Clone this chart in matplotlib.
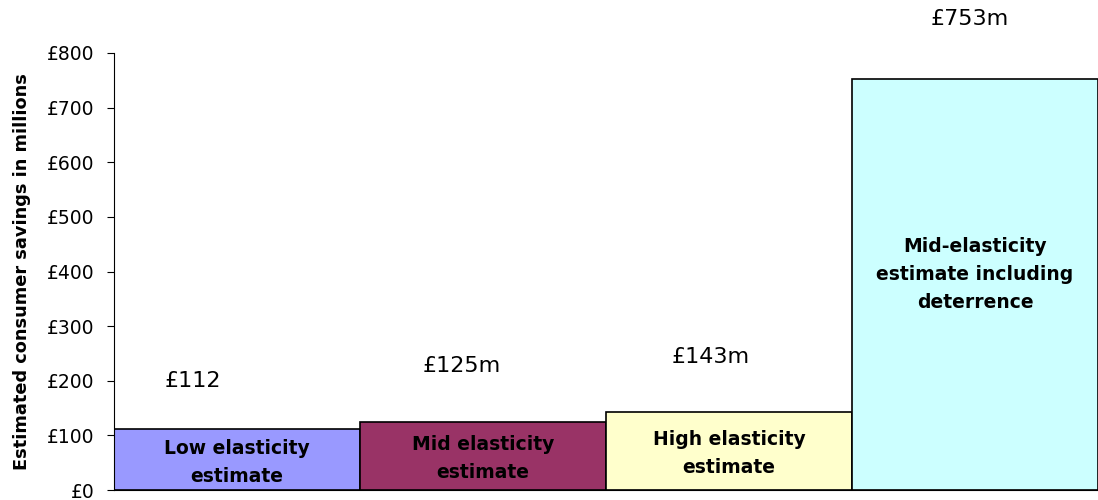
import matplotlib
matplotlib.use("Agg")
import matplotlib.pyplot as plt

categories = ["Low elasticity\nestimate", "Mid elasticity\nestimate",
              "High elasticity\nestimate", "Mid-elasticity\nestimate including\ndeterrence"]
values = [112, 125, 143, 753]
value_labels = ["£112", "£125m", "£143m", "£753m"]
colors = ["#9999FF", "#993366", "#FFFFCC", "#CCFFFF"]
yticks = [0, 100, 200, 300, 400, 500, 600, 700, 800]
ytick_labels = ["£0", "£100", "£200", "£300", "£400", "£500", "£600", "£700", "£800"]

fig = plt.figure(figsize=(10.98, 5.0), dpi=100)
ax = fig.add_axes([0.1038, 0.02, 0.8962, 0.874])

x = list(range(len(values)))
bars = ax.bar(x, values, width=1.0, color=colors, edgecolor="black", linewidth=1.2)

ax.set_xlim(-0.5, len(values) - 0.5)
ax.set_ylim(0, 800)
ax.set_yticks(yticks)
ax.set_yticklabels(ytick_labels, fontsize=13.5)
ax.set_xticks([])
ax.tick_params(axis="y", direction="out", length=5, width=0.8, pad=9)
for s in ["top", "right"]:
    ax.spines[s].set_visible(False)
ax.spines["left"].set_linewidth(0.8)
ax.spines["bottom"].set_linewidth(0.8)

ax.set_ylabel("Estimated consumer savings in millions", fontsize=12.8,
              fontweight="bold")
ax.yaxis.set_label_coords(-0.084, 0.5)

# value labels above bars (offsets in points)
label_offsets = [(-32, 34.5), (-15, 40), (-13, 39.5), (-4, 43)]
for xi, v, lab, (dx, dy) in zip(x, values, value_labels, label_offsets):
    ax.annotate(lab, xy=(xi, v), xytext=(dx, dy), textcoords="offset points",
                ha="center", va="center", fontsize=16, annotation_clip=False)

# category labels inside bars
for xi, v, cat in zip(x, values, categories):
    if v < 300:
        ypos = v / 2 - 5
    else:
        ypos = v * 0.523
    ax.text(xi, ypos, cat, ha="center", va="center", fontsize=13.5,
            fontweight="bold", linespacing=1.6)

fig.savefig("out.png", dpi=100)
